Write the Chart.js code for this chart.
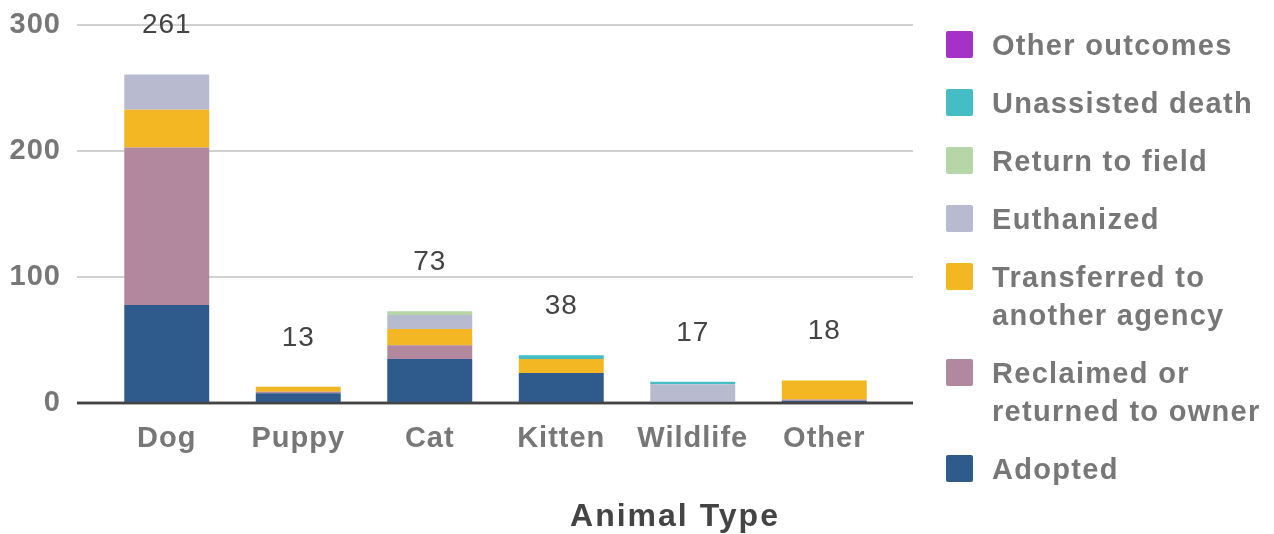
<!DOCTYPE html>
<html>
<head>
<meta charset="utf-8">
<script src="https://cdn.jsdelivr.net/npm/chart.js@4.4.1/dist/chart.umd.min.js"></script>
<style>
  html, body { margin: 0; padding: 0; background: #fff; }
  #wrap { position: relative; width: 1274px; height: 534px; }
  #legend { position: absolute; left: 946px; top: 26px; font-family: "Liberation Sans", Arial, sans-serif;
            font-weight: bold; font-size: 29px; letter-spacing: 1.3px; color: #777; }
  .item { display: flex; align-items: flex-start; margin-bottom: 20px; line-height: 38px; white-space: nowrap; }
  .box { width: 27px; height: 27px; border-radius: 2px; margin-top: 5px; margin-right: 19px; flex: none; }
</style>
</head>
<body>
<div id="wrap">
  <canvas id="grafico" width="1274" height="534"></canvas>
  <div id="legend"></div>
</div>
<script>
// Categorias e séries
const categorias = ['Dog', 'Puppy', 'Cat', 'Kitten', 'Wildlife', 'Other'];

const adopted      = [78, 8, 35, 24, 0, 2];
const reclaimed    = [125, 1, 11, 0, 0, 1];
const transferred  = [30, 4, 13, 11, 0, 15];
const euthanized   = [28, 0, 11, 0, 15, 0];
const returnField  = [0, 0, 3, 0, 0, 0];
const unassisted   = [0, 0, 0, 3, 2, 0];
const otherOutcome = [0, 0, 0, 0, 0, 0];

const yTicks = [0, 100, 200, 300];

const series = [
    { label: 'Adopted', data: adopted, color: '#2e5b8b' },
    { label: ['Reclaimed or', 'returned to owner'], data: reclaimed, color: '#b2889f' },
    { label: ['Transferred to', 'another agency'], data: transferred, color: '#f2b723' },
    { label: 'Euthanized', data: euthanized, color: '#b8bbd0' },
    { label: 'Return to field', data: returnField, color: '#b5d7a7' },
    { label: 'Unassisted death', data: unassisted, color: '#45bdc6' },
    { label: 'Other outcomes', data: otherOutcome, color: '#a631c6' }
];

const totais = categorias.map((_, i) => series.reduce((s, d) => s + d.data[i], 0));

const fonte = '"Liberation Sans", Arial, sans-serif';

// Grade horizontal mais larga que a área do gráfico
const gradePlugin = {
    id: 'grade',
    beforeDraw(chart) {
        chart.ctx.letterSpacing = '1px';
    },
    beforeDatasetsDraw(chart) {
        const ctx = chart.ctx;
        const y = chart.scales.y;
        ctx.save();
        yTicks.forEach(t => {
            const py = Math.round(y.getPixelForValue(t));
            ctx.beginPath();
            ctx.strokeStyle = t === 0 ? '#444' : '#d2d2d2';
            ctx.lineWidth = t === 0 ? 2.5 : 2;
            ctx.moveTo(77, py);
            ctx.lineTo(913, py);
            ctx.stroke();
        });
        ctx.restore();
    },
    afterDatasetsDraw(chart) {
        const ctx = chart.ctx;
        const x = chart.scales.x;
        const y = chart.scales.y;
        ctx.save();
        // redesenha a linha do zero por cima das barras
        const p0 = Math.round(y.getPixelForValue(0));
        ctx.beginPath();
        ctx.strokeStyle = '#444';
        ctx.lineWidth = 2.5;
        ctx.moveTo(77, p0);
        ctx.lineTo(913, p0);
        ctx.stroke();
        // totais acima das barras
        ctx.font = '28px ' + fonte;
        ctx.fillStyle = '#444';
        ctx.textAlign = 'center';
        ctx.textBaseline = 'middle';
        totais.forEach((t, i) => {
            ctx.fillText(String(t), x.getPixelForValue(i), y.getPixelForValue(t) - 49);
        });
        // título do eixo x
        ctx.letterSpacing = '2px';
        ctx.font = 'bold 32px ' + fonte;
        ctx.fillText('Animal Type', 675, 517);
        ctx.restore();
    }
};

const ctx = document.getElementById('grafico').getContext('2d');
const chart = new Chart(ctx, {
    type: 'bar',
    data: {
        labels: categorias,
        datasets: series.map(s => ({
            label: s.label,
            data: s.data,
            backgroundColor: s.color,
            borderWidth: 0,
            categoryPercentage: 1,
            barPercentage: 0.646
        }))
    },
    options: {
        responsive: false,
        animation: false,
        layout: { padding: { top: 0, right: 384, left: 0, bottom: 68 } },
        plugins: {
            legend: { display: false },
            tooltip: { enabled: false }
        },
        scales: {
            x: {
                stacked: true,
                grid: { display: false },
                border: { display: false },
                ticks: {
                    color: '#777',
                    font: { size: 29, weight: 'bold', family: fonte },
                    padding: 10,
                    maxRotation: 0
                }
            },
            y: {
                stacked: true,
                min: 0,
                max: 300,
                grid: { display: false, drawTicks: true, tickLength: 32 },
                border: { display: false },
                afterBuildTicks: (scale) => { scale.ticks = yTicks.map(v => ({ value: v })); },
                ticks: {
                    color: '#777',
                    font: { size: 29, weight: 'bold', family: fonte },
                    padding: 8
                },
                afterFit: (scale) => { scale.width = 101; }
            }
        }
    },
    plugins: [gradePlugin]
});

// Legenda em HTML, ordem invertida
const legenda = document.getElementById('legend');
chart.data.datasets.slice().reverse().forEach(ds => {
    const item = document.createElement('div');
    item.className = 'item';
    const box = document.createElement('div');
    box.className = 'box';
    box.style.background = ds.backgroundColor;
    const txt = document.createElement('div');
    txt.innerHTML = [].concat(ds.label).join('<br>');
    item.appendChild(box);
    item.appendChild(txt);
    legenda.appendChild(item);
});
</script>
</body>
</html>
